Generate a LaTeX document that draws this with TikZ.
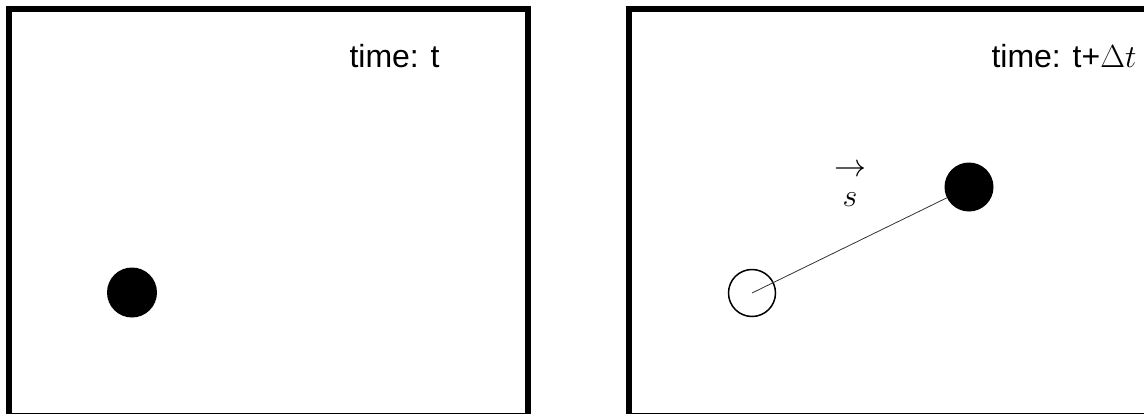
\RequirePackage{fix-cm}
\documentclass[tikz,border=0pt]{standalone}
\usepackage{amsmath, amssymb}
\usepackage{xcolor}
\usepackage{fontspec}
\setmainfont{Liberation Sans}
\usepackage{tikz}
\usetikzlibrary{positioning}

\begin{document}
\begin{tikzpicture}[x=1pt,y=-1pt]
    \useasboundingbox (0,0) rectangle (1144,413);
    \clip (0,0) rectangle (1144,413);
    \draw[line width=6pt] (9,9) rectangle (528,416);
    \draw[line width=6pt] (628.5,9) rectangle (1150,416);
    \node[anchor=base west,font=\fontsize{32}{38}\selectfont] (timeA) at (346,67) {time: t};
    \node[circle,fill,inner sep=0pt,minimum size=50pt] (ballA) at (132,292.5) {};
    \node[anchor=base west,font=\fontsize{32}{38}\selectfont] (timeB) at (988,67) {time: t+$\Delta t$};
    \node[circle,draw,line width=1.5pt,inner sep=0pt,minimum size=47pt] (ballold) at (752,293) {};
    \node[circle,fill,inner sep=0pt,minimum size=49pt] (ballnew) at (969,187) {};
    \draw[line width=0.8pt,black!80] (ballold.center) -- (ballnew);
    \node[font=\fontsize{32}{38}\selectfont] (svec) at (850,199.5) {$s$};
    \node[font=\fontsize{32}{38}\selectfont] (sarrow) at (850,171) {$\rightarrow$};
    \end{tikzpicture}
\end{document}
